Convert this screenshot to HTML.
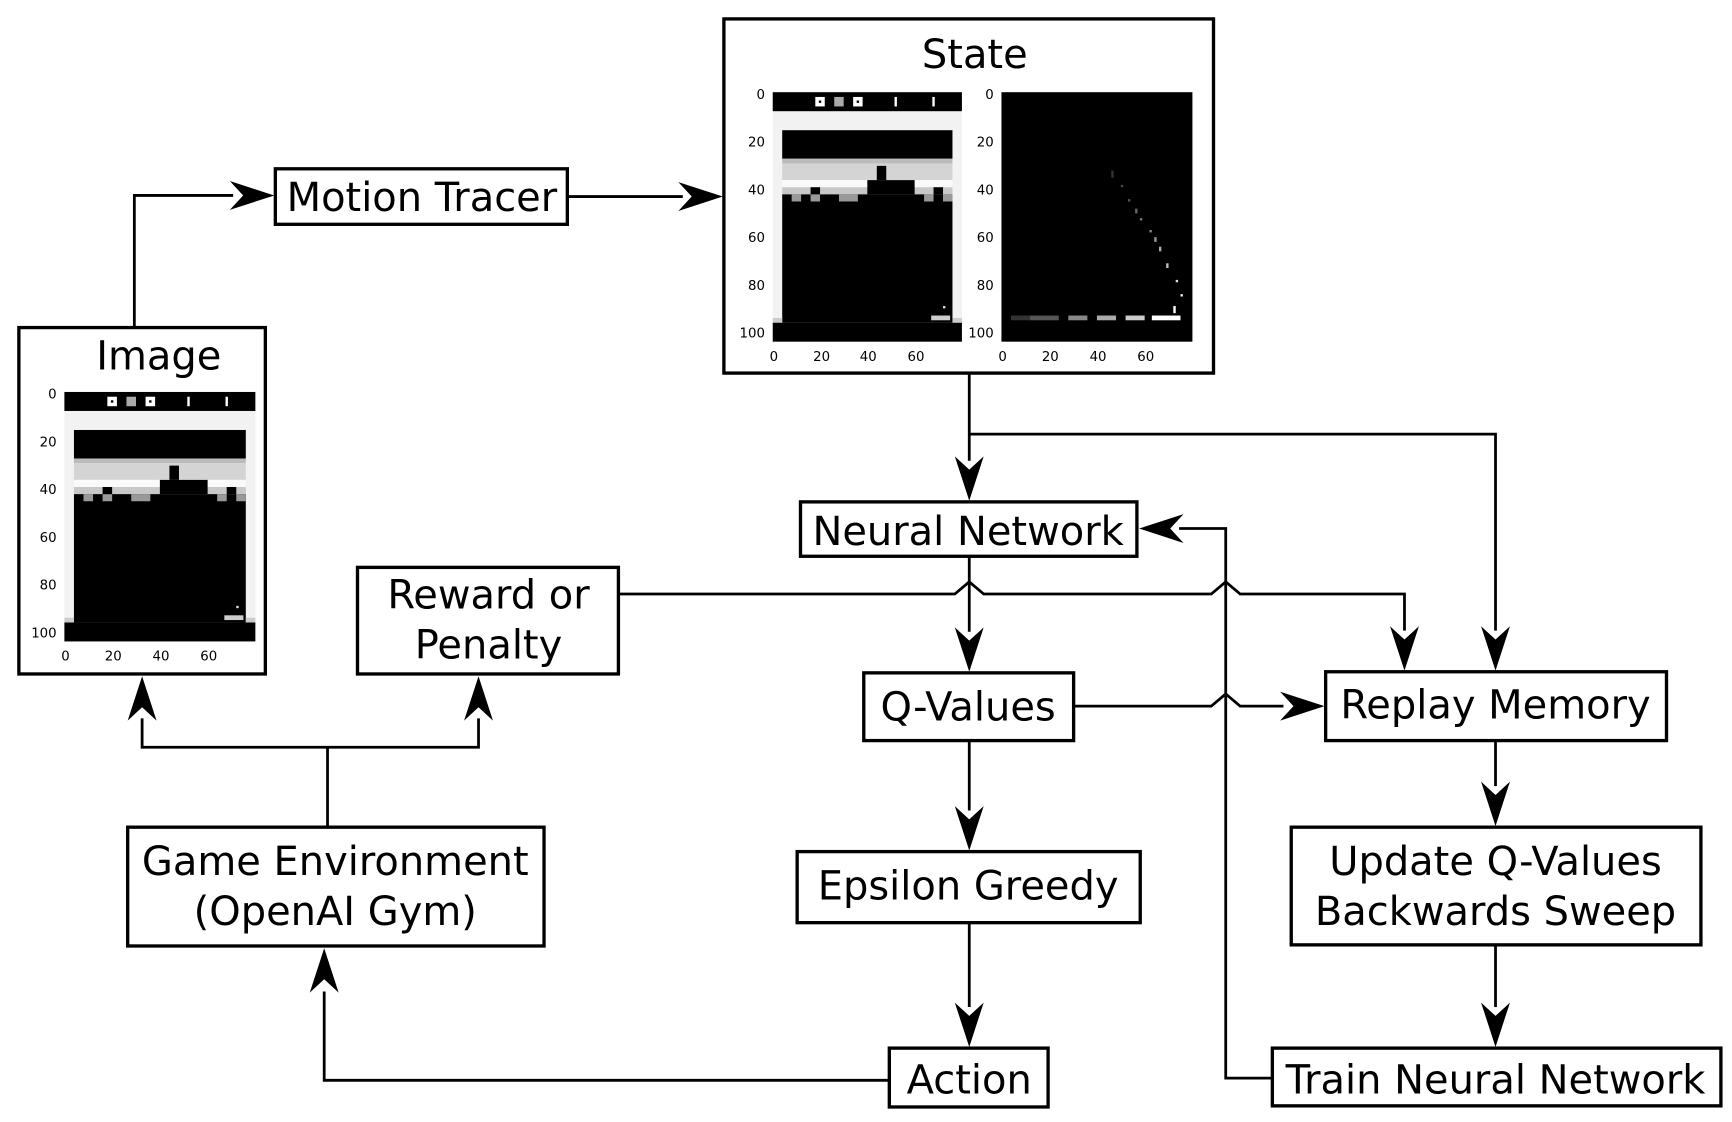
<!DOCTYPE html>
<html><head><meta charset="utf-8"><style>
html,body{margin:0;padding:0;background:#fff}
svg{display:block}
text{font-family:"DejaVu Sans","Liberation Sans",sans-serif}
</style></head><body>
<svg width="1732" height="1122" viewBox="0 0 1560 1010.5" xmlns="http://www.w3.org/2000/svg">
<defs>
<g id="brk">
 <rect x="0" y="0" width="80" height="105" fill="#f2f2f2"/>
 <rect x="0" y="0" width="80" height="8" fill="#000"/>
 <rect x="18" y="2" width="4" height="4" fill="#fff"/><rect x="19.5" y="3.5" width="1" height="1" fill="#000"/>
 <rect x="26" y="2" width="4" height="4" fill="#aaa"/>
 <rect x="34" y="2" width="4" height="4" fill="#fff"/><rect x="35.5" y="3.5" width="1" height="1" fill="#000"/>
 <rect x="51.5" y="2" width="1" height="4" fill="#fff"/><rect x="67.5" y="2" width="1" height="4" fill="#fff"/>
 <rect x="4" y="16" width="72" height="12" fill="#000"/>
 <rect x="4" y="28" width="72" height="2" fill="#bbb"/>
 <rect x="4" y="30" width="72" height="7" fill="#d4d4d4"/>
 <rect x="4" y="37" width="72" height="3" fill="#fafafa"/>
 <rect x="4" y="40" width="72" height="3" fill="#c8c8c8"/>
 <rect x="4" y="43" width="72" height="54" fill="#000"/>
 <rect x="8" y="43" width="4" height="3" fill="#999"/><rect x="16" y="43" width="4" height="3" fill="#999"/>
 <rect x="28" y="43" width="8" height="3" fill="#999"/><rect x="64" y="43" width="4" height="3" fill="#999"/>
 <rect x="72" y="43" width="4" height="3" fill="#999"/>
 <rect x="16" y="40" width="4" height="3" fill="#000"/>
 <rect x="40" y="37" width="20" height="6" fill="#000"/>
 <rect x="44" y="31" width="4" height="6" fill="#000"/>
 <rect x="68" y="40" width="4" height="3" fill="#000"/>
 <rect x="0" y="97" width="80" height="8" fill="#000"/>
 <rect x="0" y="95" width="4" height="2" fill="#ccc"/><rect x="76" y="95" width="4" height="2" fill="#ccc"/>
 <rect x="67" y="94" width="8" height="2" fill="#ccc"/>
 <rect x="72" y="90" width="1" height="1" fill="#ddd"/>
</g>
<g id="mot">
 <rect x="0" y="0" width="80" height="105" fill="#000"/>
 <rect x="4" y="94" width="8" height="2" fill="#333"/><rect x="12" y="94" width="12" height="2" fill="#555"/>
 <rect x="28" y="94" width="8" height="2" fill="#888"/><rect x="40" y="94" width="8" height="2" fill="#aaa"/>
 <rect x="52" y="94" width="8" height="2" fill="#ccc"/><rect x="63" y="94" width="12" height="2" fill="#fff"/>
 <rect x="46" y="33" width="1" height="3" fill="#333"/><rect x="50" y="39" width="1" height="1" fill="#444"/>
 <rect x="53" y="45" width="1" height="1" fill="#555"/><rect x="56" y="49" width="1" height="2" fill="#666"/>
 <rect x="58" y="53" width="1" height="1" fill="#777"/><rect x="62" y="58" width="1" height="1" fill="#888"/>
 <rect x="64" y="61" width="1" height="2" fill="#999"/><rect x="66" y="65" width="1" height="2" fill="#aaa"/>
 <rect x="69" y="72" width="1" height="2" fill="#bbb"/><rect x="73" y="79" width="1" height="1" fill="#ddd"/>
 <rect x="75" y="85" width="1" height="1" fill="#eee"/><rect x="72" y="90" width="1" height="3" fill="#fff"/>
</g>
<path id="ah" d="M0,0 L-40,-13 L-28,0 L-40,13 Z"/>
</defs>

<g fill="none" stroke="#000" stroke-width="3">
 <rect x="652" y="17" width="441" height="319"/>
 <rect x="248" y="152" width="263" height="50"/>
 <rect x="17" y="295" width="222" height="312"/>
 <rect x="721" y="452" width="303" height="49"/>
 <rect x="322" y="511" width="235" height="96"/>
 <rect x="778" y="606" width="189" height="61"/>
 <rect x="1194" y="605" width="307" height="62"/>
 <rect x="115" y="745" width="375" height="107"/>
 <rect x="718" y="767" width="309" height="64"/>
 <rect x="1163" y="745" width="369" height="106"/>
 <rect x="801" y="944" width="143" height="53"/>
 <rect x="1146" y="944" width="404" height="52"/>
</g>
<g fill="none" stroke="#000" stroke-width="2.5">
 <polyline points="121,295 121,176 210,176"/>
 <line x1="511" y1="177" x2="615" y2="177"/>
 <line x1="873" y1="336" x2="873" y2="415"/>
 <polyline points="873,391 1347,391 1347,568"/>
 <line x1="873" y1="501" x2="873" y2="569"/>
 <polyline points="557,535 860,535 873,524 886,535 1091,535 1104,524 1117,535 1265,535 1265,568"/>
 <polyline points="1146,971 1104,971 1104,476 1062,476"/>
 <polyline points="967,636 1091,636 1104,625 1117,636 1156,636"/>
 <line x1="873" y1="667" x2="873" y2="730"/>
 <line x1="873" y1="831" x2="873" y2="907"/>
 <polyline points="801,973 292,973 292,893"/>
 <line x1="295" y1="745" x2="295" y2="673"/>
 <polyline points="128,647 128,673 431,673 431,647"/>
 <line x1="1347" y1="667" x2="1347" y2="708"/>
 <line x1="1347" y1="851" x2="1347" y2="907"/>
</g>
<g fill="#000">
 <use href="#ah" transform="translate(247,176)"/>
 <use href="#ah" transform="translate(651,177)"/>
 <use href="#ah" transform="translate(873,451) rotate(90)"/>
 <use href="#ah" transform="translate(1347,604) rotate(90)"/>
 <use href="#ah" transform="translate(873,605) rotate(90)"/>
 <use href="#ah" transform="translate(1265,604) rotate(90)"/>
 <use href="#ah" transform="translate(1026,476) rotate(180)"/>
 <use href="#ah" transform="translate(1193,636)"/>
 <use href="#ah" transform="translate(873,766) rotate(90)"/>
 <use href="#ah" transform="translate(873,943) rotate(90)"/>
 <use href="#ah" transform="translate(292,854) rotate(-90)"/>
 <use href="#ah" transform="translate(128,609) rotate(-90)"/>
 <use href="#ah" transform="translate(431,609) rotate(-90)"/>
 <use href="#ah" transform="translate(1347,744) rotate(90)"/>
 <use href="#ah" transform="translate(1347,943) rotate(90)"/>
</g>

<use href="#brk" transform="translate(696,83) scale(2.13,2.14)"/>
<use href="#mot" transform="translate(902,83) scale(2.15,2.14)"/>
<use href="#brk" transform="translate(58,353) scale(2.15,2.14)"/>
<g font-size="12" fill="#000" stroke="none">
 <g text-anchor="end">
  <text x="689" y="89">0</text><text x="689" y="132">20</text><text x="689" y="175">40</text><text x="689" y="218">60</text><text x="689" y="261">80</text><text x="689" y="304">100</text>
  <text x="895" y="89">0</text><text x="895" y="132">20</text><text x="895" y="175">40</text><text x="895" y="218">60</text><text x="895" y="261">80</text><text x="895" y="304">100</text>
  <text x="51" y="359">0</text><text x="51" y="402">20</text><text x="51" y="445">40</text><text x="51" y="488">60</text><text x="51" y="531">80</text><text x="51" y="574">100</text>
 </g>
 <g text-anchor="middle">
  <text x="697" y="325">0</text><text x="740" y="325">20</text><text x="782" y="325">40</text><text x="825" y="325">60</text>
  <text x="903" y="325">0</text><text x="946" y="325">20</text><text x="989" y="325">40</text><text x="1032" y="325">60</text>
  <text x="59" y="595">0</text><text x="102" y="595">20</text><text x="145" y="595">40</text><text x="188" y="595">60</text>
 </g>
</g>

<g font-size="36" fill="#000" text-anchor="middle">
 <text x="878" y="61">State</text>
 <text x="380" y="190">Motion Tracer</text>
 <text x="143" y="333">Image</text>
 <text x="872" y="491">Neural Network</text>
 <text x="440" y="548">Reward or</text>
 <text x="440" y="593">Penalty</text>
 <text x="872" y="649">Q-Values</text>
 <text x="1347" y="647">Replay Memory</text>
 <text x="302" y="788">Game Environment</text>
 <text x="302" y="833">(OpenAI Gym)</text>
 <text x="872" y="810">Epsilon Greedy</text>
 <text x="1347" y="788">Update Q-Values</text>
 <text x="1347" y="833">Backwards Sweep</text>
 <text x="873" y="985">Action</text>
 <text x="1347" y="985">Train Neural Network</text>
</g>
</svg>
</body></html>
